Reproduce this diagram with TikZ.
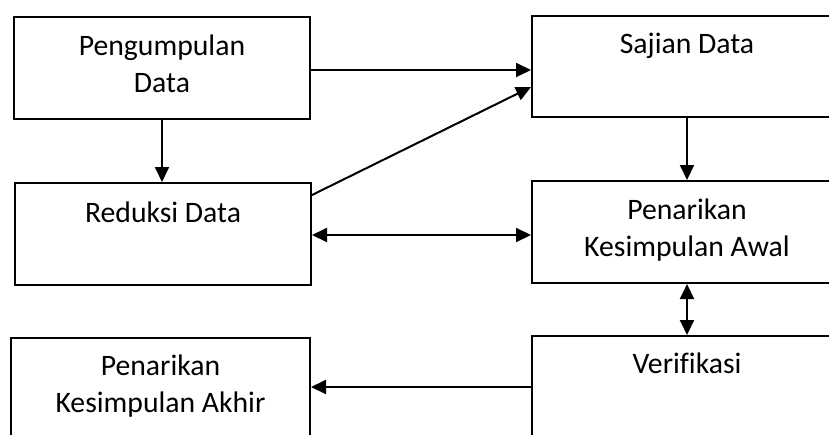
\documentclass[tikz,border=0pt]{standalone}
\usepackage{fontspec}
\setmainfont[Ligatures=NoCommon]{Carlito}
\usetikzlibrary{arrows.meta}
\tikzset{
  box/.style={draw=black, line width=2pt, minimum width=296pt, minimum height=102pt,
              anchor=north west, inner sep=0pt},
  lbl/.style={align=center, anchor=base, inner sep=0pt, font=\fontsize{29.7}{37}\selectfont},
  arr/.style={line width=2pt, -{Triangle[length=15pt,width=14pt]}},
  darr/.style={line width=2pt, {Triangle[length=15pt,width=14pt]}-{Triangle[length=15pt,width=14pt]}}
}
\begin{document}
\begin{tikzpicture}[x=1pt,y=-1pt]
\useasboundingbox (0,0) rectangle (829,434);
\clip (0,0) rectangle (829,434);
\fill[white] (0,0) rectangle (829,434);
% boxes
\node[box] (b1) at (13,16) {};
\node[box, minimum width=310pt, minimum height=101pt] (b2) at (531,15) {};
\node[box] (b3) at (14,182) {};
\node[box, minimum width=310pt] (b4) at (531,180) {};
\node[box, minimum width=299pt] (b5) at (10,337) {};
\node[box, minimum width=310pt] (b6) at (531,335) {};
% texts (base anchor = baseline of last line)
\node[lbl] (t1) at ([yshift=-76pt]b1.north) {Pengumpulan\\Data};
\node[lbl] (t2) at ([yshift=-38pt]b2.north) {Sajian Data};
\node[lbl] (t3) at ([yshift=-40pt]b3.north) {Reduksi Data};
\node[lbl] (t4) at ([yshift=-76pt]b4.north) {Penarikan\\Kesimpulan Awal};
\node[lbl] (t5) at ([yshift=-75pt]b5.north) {Penarikan\\Kesimpulan Akhir};
\node[lbl] (t6) at ([yshift=-38pt]b6.north) {Verifikasi};
% connectors
\draw[arr] ([yshift=-2pt]b1.east) -- ([yshift=-2pt]b1.east -| b2.west);
\draw[arr] ([yshift=-13pt]b3.north east) -- ([yshift=-72pt]b2.north west);
\draw[arr] (b1.south) -- (b1.south |- b3.north);
\draw[arr] (b2.south) -- (b2.south |- b4.north);
\draw[darr] ([yshift=-1pt]b3.east) -- ([yshift=-1pt]b3.east -| b4.west);
\draw[darr] (b4.south) -- (b4.south |- b6.north);
\draw[arr] (b6.west) -- (b6.west -| b5.east);
\end{tikzpicture}
\end{document}
